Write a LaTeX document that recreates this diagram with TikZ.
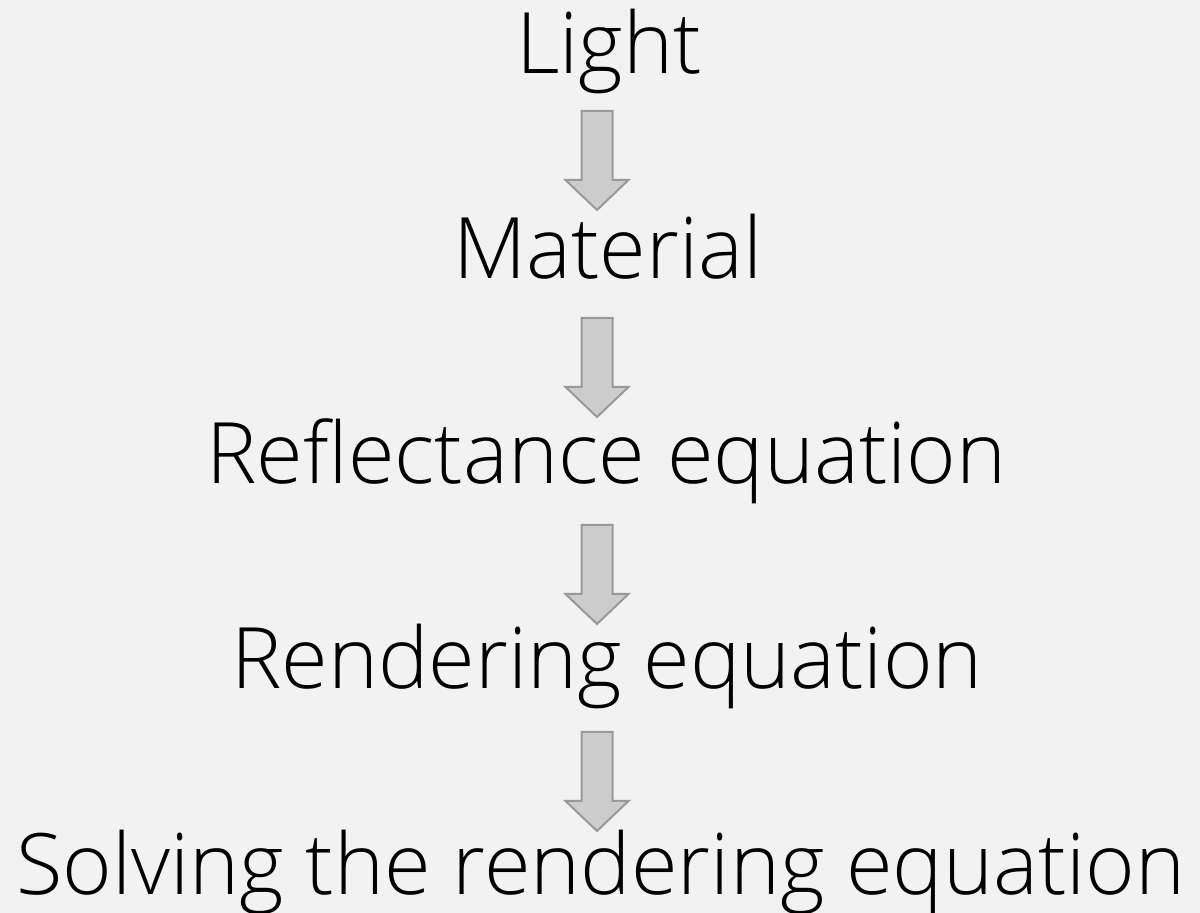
\documentclass[tikz,border=0pt]{standalone}
\usepackage{fontspec}
\setmainfont{Open Sans Light}
\definecolor{bg}{HTML}{F2F2F2}
\definecolor{arrowfill}{HTML}{CCCCCC}
\definecolor{arrowdraw}{HTML}{999999}
\tikzset{
  lbl/.style={anchor=base, inner sep=0pt, font=\fontsize{84.8}{100}\selectfont, text=black},
  fatarrow/.style={fill=arrowfill, draw=arrowdraw, line width=2pt, line join=miter}
}
\begin{document}
\begin{tikzpicture}[x=1pt,y=1pt]
\fill[bg] (0,0) rectangle (1200,913);
\useasboundingbox (0,0) rectangle (1200,913);
\node[lbl] (light) at (609,{913-74}) {Light};
\node[lbl] (material) at (608,{913-279}) {Material};
\node[lbl] (reflect) at (606.5,{913-484}) {Reflectance equation};
\node[lbl] (render) at (607,{913-689}) {Rendering equation};
\node[lbl] (solve) at (601,{913-895}) {Solving the rendering equation};
\foreach \t/\n in {111/a1,318/a2,525/a3,732/a4}{
  \coordinate (\n) at (596.5,{913-\t});
  \draw[fatarrow] (\n) ++(-15,0) -- ++(31,0) -- ++(0,-69) -- ++(16,0) -- ++(-31.5,-30) -- ++(-31.5,30) -- ++(16,0) -- cycle;
}
\end{tikzpicture}
\end{document}
